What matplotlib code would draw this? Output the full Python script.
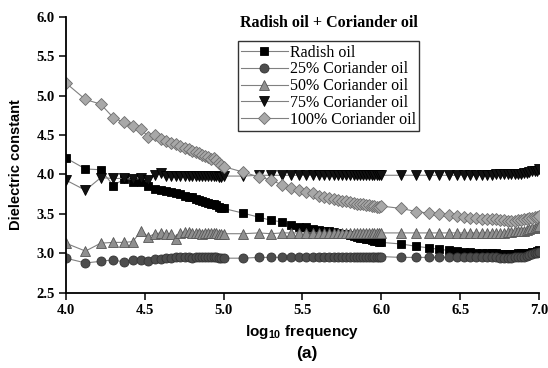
import numpy as np
import matplotlib
matplotlib.use("Agg")
import matplotlib.pyplot as plt

# measurement grid: 27 steps per decade from 10 kHz to 10 MHz
decade_steps = [1.0, 1.333, 1.667, 2.0, 2.333, 2.667, 3.0, 3.333, 3.667, 4.0,
                4.333, 4.667, 5.0, 5.333, 5.667, 6.0, 6.333, 6.667, 7.0, 7.333,
                7.667, 8.0, 8.333, 8.667, 9.0, 9.333, 9.667]
decades = [1e4, 1e5, 1e6]
freq_hz = [s * d for d in decades for s in decade_steps] + [1e7]
log_freq = np.log10(freq_hz)

radish = [4.21, 4.07, 4.06, 3.86, 3.94, 3.90, 3.90, 3.86, 3.81, 3.80, 3.79, 3.78, 3.76, 3.75,
          3.73, 3.72, 3.71, 3.69, 3.68, 3.66, 3.65, 3.64, 3.63, 3.62, 3.61, 3.59, 3.58,
          3.57, 3.51, 3.46, 3.42, 3.40, 3.36, 3.34, 3.33, 3.31, 3.30, 3.29, 3.28, 3.27, 3.26,
          3.25, 3.24, 3.23, 3.22, 3.21, 3.20, 3.19, 3.18, 3.18, 3.17, 3.16, 3.16, 3.15,
          3.14, 3.12, 3.09, 3.07, 3.05, 3.04, 3.03, 3.02, 3.02, 3.01, 3.01, 3.00, 3.00, 3.00,
          2.99, 2.99, 2.99, 2.99, 2.99, 3.00, 3.00, 3.00, 3.01, 3.01, 3.02, 3.02, 3.03,
          3.04]
cor25 = [2.94, 2.88, 2.90, 2.92, 2.89, 2.92, 2.92, 2.91, 2.93, 2.93, 2.94, 2.94, 2.95, 2.96,
         2.96, 2.95, 2.94, 2.95, 2.95, 2.95, 2.96, 2.95, 2.95, 2.95, 2.95, 2.94, 2.94,
         2.94, 2.94, 2.95, 2.95, 2.95, 2.95, 2.95, 2.96, 2.95, 2.95, 2.95, 2.95, 2.95, 2.95,
         2.95, 2.95, 2.95, 2.95, 2.95, 2.95, 2.95, 2.95, 2.95, 2.96, 2.96, 2.96, 2.96,
         2.96, 2.95, 2.95, 2.95, 2.95, 2.95, 2.95, 2.95, 2.95, 2.95, 2.95, 2.95, 2.95, 2.95,
         2.94, 2.94, 2.94, 2.94, 2.95, 2.95, 2.96, 2.96, 2.97, 2.98, 2.99, 3.00, 3.01,
         3.02]
cor50 = [3.13, 3.03, 3.13, 3.14, 3.14, 3.15, 3.29, 3.21, 3.25, 3.26, 3.25, 3.25, 3.18, 3.26,
         3.27, 3.27, 3.26, 3.26, 3.26, 3.25, 3.26, 3.26, 3.26, 3.26, 3.26, 3.25, 3.25,
         3.25, 3.25, 3.26, 3.25, 3.26, 3.26, 3.26, 3.26, 3.26, 3.26, 3.26, 3.26, 3.26, 3.26,
         3.26, 3.26, 3.26, 3.26, 3.26, 3.26, 3.26, 3.26, 3.26, 3.26, 3.26, 3.26, 3.26,
         3.26, 3.26, 3.26, 3.26, 3.26, 3.26, 3.26, 3.26, 3.26, 3.26, 3.26, 3.26, 3.26, 3.26,
         3.26, 3.26, 3.27, 3.27, 3.28, 3.28, 3.29, 3.29, 3.30, 3.31, 3.32, 3.32, 3.33,
         3.35]
cor75 = [3.93, 3.80, 3.96, 3.95, 3.95, 3.94, 3.95, 3.93, 3.99, 4.02, 3.98, 3.98, 3.98, 3.98,
         3.98, 3.98, 3.98, 3.98, 3.98, 3.98, 3.98, 3.98, 3.98, 3.98, 3.98, 3.97, 3.97,
         3.98, 3.98, 3.99, 3.99, 3.99, 3.99, 3.99, 3.99, 3.99, 3.99, 3.99, 3.99, 3.99, 3.99,
         3.99, 3.99, 3.99, 3.99, 3.99, 3.99, 3.99, 3.99, 3.99, 3.99, 3.99, 3.99, 3.99,
         3.99, 3.99, 3.99, 3.99, 3.99, 3.99, 3.99, 3.99, 3.99, 3.99, 3.99, 3.99, 3.99, 4.00,
         4.00, 4.00, 4.00, 4.00, 4.00, 4.01, 4.01, 4.02, 4.02, 4.03, 4.04, 4.05, 4.05,
         4.07]
cor100 = [5.16, 4.95, 4.89, 4.72, 4.66, 4.62, 4.57, 4.48, 4.50, 4.45, 4.42, 4.40, 4.39, 4.36,
          4.34, 4.32, 4.30, 4.28, 4.27, 4.25, 4.23, 4.22, 4.20, 4.21, 4.18, 4.15, 4.12,
          4.10, 4.03, 3.97, 3.93, 3.87, 3.83, 3.80, 3.78, 3.76, 3.73, 3.71, 3.70, 3.69, 3.68,
          3.67, 3.66, 3.65, 3.64, 3.63, 3.62, 3.62, 3.61, 3.61, 3.60, 3.60, 3.59, 3.59,
          3.60, 3.57, 3.53, 3.51, 3.50, 3.49, 3.47, 3.46, 3.45, 3.45, 3.44, 3.44, 3.43, 3.43,
          3.42, 3.42, 3.41, 3.41, 3.41, 3.42, 3.42, 3.43, 3.44, 3.45, 3.45, 3.46, 3.46,
          3.47]

labels = ['Radish oil', '25% Coriander oil', '50% Coriander oil',
          '75% Coriander oil', '100% Coriander oil']

plt.rcParams['mathtext.fontset'] = 'custom'
plt.rcParams['mathtext.rm'] = 'Liberation Sans:bold'
plt.rcParams['mathtext.it'] = 'Liberation Sans:bold'
plt.rcParams['mathtext.bf'] = 'Liberation Sans:bold'

fig = plt.figure(figsize=(5.48, 3.68), dpi=100)
ax = fig.add_axes([0.12, 0.204, 0.864, 0.751])

line_col = '#808080'
styles = [
    dict(marker='s', ms=5.5, mfc='black', mec='black'),
    dict(marker='o', ms=6.5, mfc='#4d4d4d', mec='#333333'),
    dict(marker='^', ms=7.5, mfc='#8f8f8f', mec='#555555'),
    dict(marker='v', ms=7.5, mfc='#111111', mec='black'),
    dict(marker='D', ms=6, mfc='#a8a8a8', mec='#6e6e6e'),
]
series = [radish, cor25, cor50, cor75, cor100]
for vals, lab, st in zip(series, labels, styles):
    ax.plot(log_freq, vals, color=line_col, lw=0.8, mew=0.6, label=lab, **st)

ax.set_xlim(4.0, 7.0)
ax.set_ylim(2.5, 6.0)
ax.set_xticks([4.0, 4.5, 5.0, 5.5, 6.0, 6.5, 7.0])
ax.set_yticks([2.5, 3.0, 3.5, 4.0, 4.5, 5.0, 5.5, 6.0])
ax.set_xticklabels(['4.0', '4.5', '5.0', '5.5', '6.0', '6.5', '7.0'],
                   family='Liberation Serif', weight='bold', fontsize=10.5)
ax.set_yticklabels(['2.5', '3.0', '3.5', '4.0', '4.5', '5.0', '5.5', '6.0'],
                   family='Liberation Serif', weight='bold', fontsize=10.5)
ax.tick_params(direction='out', length=5, width=1.1, pad=3)
ax.spines['top'].set_visible(False)
ax.spines['right'].set_visible(False)
ax.spines['left'].set_linewidth(1.3)
ax.spines['bottom'].set_linewidth(1.3)

ax.set_ylabel('Dielectric constant', family='Liberation Sans', weight='bold', fontsize=10.5)
ax.yaxis.set_label_coords(-0.09, 0.463)
ax.set_xlabel(r'log$_{10}$ frequency', family='Liberation Sans', weight='bold', fontsize=11)
ax.xaxis.set_label_coords(0.5, -0.108)

ax.text(0.556, 0.975, 'Radish oil + Coriander oil', transform=ax.transAxes,
        ha='center', va='center', family='Liberation Serif', weight='bold', fontsize=11.5)
fig.text(0.56, 0.04, '(a)', ha='center', va='center', family='Liberation Sans',
         weight='bold', fontsize=12.5)

leg = ax.legend(loc='upper left', bbox_to_anchor=(0.364, 0.91), frameon=True, fancybox=False,
                prop={'family': 'Liberation Serif', 'size': 11.5}, handlelength=2.9,
                handletextpad=0.15, labelspacing=0.05, borderpad=0.2, borderaxespad=0)
leg.get_frame().set_edgecolor('black')
leg.get_frame().set_linewidth(1.0)

fig.savefig('out.png', dpi=100)
